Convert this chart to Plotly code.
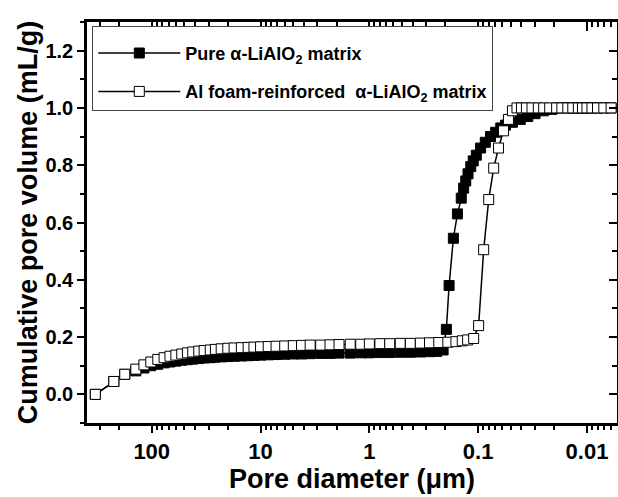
import plotly.graph_objects as go

# Pore diameter (um) and cumulative pore volume (mL/g)
d_pure = [330, 223, 177, 140, 118, 102, 88, 77, 68, 60, 53, 47, 42, 37, 33, 29, 26, 23, 20, 17.5,
          15, 13, 11.5, 10, 8.5, 7.2, 6, 5, 4.2, 3.5, 2.8, 2.3, 1.9, 1.5, 1.2, 1.0, 0.8, 0.65,
          0.52, 0.42, 0.34, 0.28, 0.24, 0.21, 0.196, 0.185, 0.169, 0.155, 0.143, 0.136, 0.130,
          0.124, 0.117, 0.111, 0.104, 0.095, 0.086, 0.077, 0.069, 0.062, 0.0561, 0.0484, 0.041,
          0.035, 0.030, 0.025, 0.021, 0.018, 0.015, 0.0135, 0.012, 0.011, 0.010, 0.009, 0.008,
          0.007, 0.006]
v_pure = [0.0, 0.045, 0.07, 0.082, 0.092, 0.1, 0.105, 0.11, 0.113, 0.116, 0.119, 0.121, 0.123,
          0.125, 0.127, 0.128, 0.13, 0.131, 0.132, 0.133, 0.134, 0.135, 0.136, 0.137, 0.138,
          0.139, 0.140, 0.141, 0.141, 0.142, 0.143, 0.143, 0.144, 0.144, 0.145, 0.145, 0.146,
          0.146, 0.147, 0.147, 0.148, 0.149, 0.150, 0.155, 0.227, 0.38, 0.545, 0.63, 0.685,
          0.72, 0.745, 0.77, 0.795, 0.815, 0.835, 0.86, 0.88, 0.9, 0.915, 0.93, 0.94, 0.95,
          0.96, 0.97, 0.98, 0.99, 0.995, 1.0, 1.0, 1.0, 1.0, 1.0, 1.0, 1.0, 1.0, 1.0, 1.0]

d_foam = [330, 223, 177, 140, 118, 102, 88, 77, 68, 60, 53, 47, 42, 37, 33, 29, 26, 23, 20, 17.5,
          15, 13, 11.5, 10, 8.5, 7.2, 6, 5, 4.2, 3.5, 2.8, 2.3, 1.9, 1.5, 1.2, 1.0, 0.8, 0.65,
          0.52, 0.42, 0.34, 0.28, 0.23, 0.19, 0.16, 0.14, 0.125, 0.11, 0.099, 0.089, 0.080,
          0.072, 0.065, 0.0585, 0.0527, 0.0484, 0.044, 0.040, 0.036, 0.032, 0.028, 0.025,
          0.022, 0.019, 0.017, 0.015, 0.0135, 0.012, 0.011, 0.010, 0.009, 0.008, 0.007, 0.006]
v_foam = [0.0, 0.045, 0.07, 0.088, 0.103, 0.113, 0.122, 0.128, 0.133, 0.137, 0.141, 0.145, 0.148,
          0.151, 0.153, 0.155, 0.157, 0.159, 0.161, 0.162, 0.163, 0.164, 0.165, 0.166, 0.167,
          0.168, 0.169, 0.170, 0.171, 0.172, 0.172, 0.173, 0.174, 0.175, 0.175, 0.176, 0.177,
          0.177, 0.178, 0.178, 0.179, 0.180, 0.181, 0.182, 0.184, 0.187, 0.190, 0.195, 0.24,
          0.505, 0.68, 0.79, 0.86, 0.92, 0.96, 0.99, 1.0, 1.0, 1.0, 1.0, 1.0, 1.0, 1.0, 1.0,
          1.0, 1.0, 1.0, 1.0, 1.0, 1.0, 1.0, 1.0, 1.0, 1.0]

x_tickvals = [100, 10, 1, 0.1, 0.01]
x_ticktext = ["100", "10", "1", "0.1", "0.01"]

FONT = "Liberation Sans, Arial, sans-serif"
XR = [2.595, -2.276]
YR = [-0.1, 1.3]

fig = go.Figure()
fig.add_trace(go.Scatter(
    x=d_pure, y=v_pure, mode="lines+markers",
    name="Pure α-LiAlO<sub>2</sub> matrix", legendgroup="a",
    line=dict(color="black", width=1.5),
    marker=dict(symbol="square", size=10, color="black", line=dict(color="black", width=1)),
))
fig.add_trace(go.Scatter(
    x=d_foam, y=v_foam, mode="lines+markers",
    name="Al foam-reinforced  α-LiAlO<sub>2</sub> matrix", legendgroup="b",
    line=dict(color="black", width=1.5),
    marker=dict(symbol="square", size=10, color="white", line=dict(color="black", width=1)),
))
# invisible trace to anchor mirror axes
fig.add_trace(go.Scatter(x=[d_foam[0]], y=[v_foam[0]], xaxis="x2", yaxis="y2",
                         mode="markers", marker=dict(opacity=0), showlegend=False,
                         hoverinfo="skip"))

fig.update_layout(
    width=618, height=497,
    margin=dict(l=87, r=1, t=22, b=74),
    paper_bgcolor="white", plot_bgcolor="white",
    showlegend=True,
    xaxis=dict(
        type="log", range=XR, tickvals=x_tickvals, ticktext=x_ticktext,
        ticks="outside", ticklen=7, tickwidth=2, tickcolor="black",
        showline=True, linewidth=2.5, linecolor="black", showgrid=False, zeroline=False,
        tickfont=dict(family=FONT, size=22, color="black", weight="bold"),
        minor=dict(ticks="outside", ticklen=4, tickwidth=2, tickcolor="black",
                   dtick="D1", showgrid=False),
        title=dict(text="Pore diameter (μm)", standoff=4,
                   font=dict(family=FONT, size=27, color="black", weight="bold")),
    ),
    yaxis=dict(
        range=YR, dtick=0.2, tick0=0, tickformat=".1f",
        ticks="outside", ticklen=7, tickwidth=2, tickcolor="black",
        showline=True, linewidth=2.5, linecolor="black", showgrid=False, zeroline=False,
        tickfont=dict(family=FONT, size=20, color="black", weight="bold"),
        minor=dict(ticks="outside", ticklen=4, tickwidth=2, tickcolor="black",
                   dtick=0.1, showgrid=False),
        title=dict(text="Cumulative pore volume (mL/g)", standoff=0,
                   font=dict(family=FONT, size=27, color="black", weight="bold")),
    ),
    xaxis2=dict(
        type="log", range=XR, overlaying="x", side="top", anchor="y2",
        tickvals=x_tickvals, showticklabels=False,
        ticks="inside", ticklen=9, tickwidth=2, tickcolor="black",
        showline=True, linewidth=2.5, linecolor="black", showgrid=False, zeroline=False,
        minor=dict(ticks="inside", ticklen=5, tickwidth=2, tickcolor="black",
                   dtick="D1", showgrid=False),
    ),
    yaxis2=dict(
        range=YR, overlaying="y", side="right", anchor="x2",
        dtick=0.2, tick0=0, showticklabels=False,
        ticks="inside", ticklen=8, tickwidth=2, tickcolor="black",
        showline=True, linewidth=2.5, linecolor="black", showgrid=False, zeroline=False,
        minor=dict(ticks="inside", ticklen=5, tickwidth=2, tickcolor="black",
                   dtick=0.1, showgrid=False),
    ),
    legend=dict(
        x=0.01, y=0.99, xanchor="left", yanchor="top",
        bgcolor="white", bordercolor="#444", borderwidth=1,
        font=dict(family=FONT, size=18, color="black", weight="bold"),
        traceorder="grouped", tracegroupgap=12, itemwidth=82,
        title=dict(text=" ", font=dict(family=FONT, size=6)),
    ),
)

fig.write_html("out.html", config={"displayModeBar": False},
               post_script="document.body.style.margin='0';")
